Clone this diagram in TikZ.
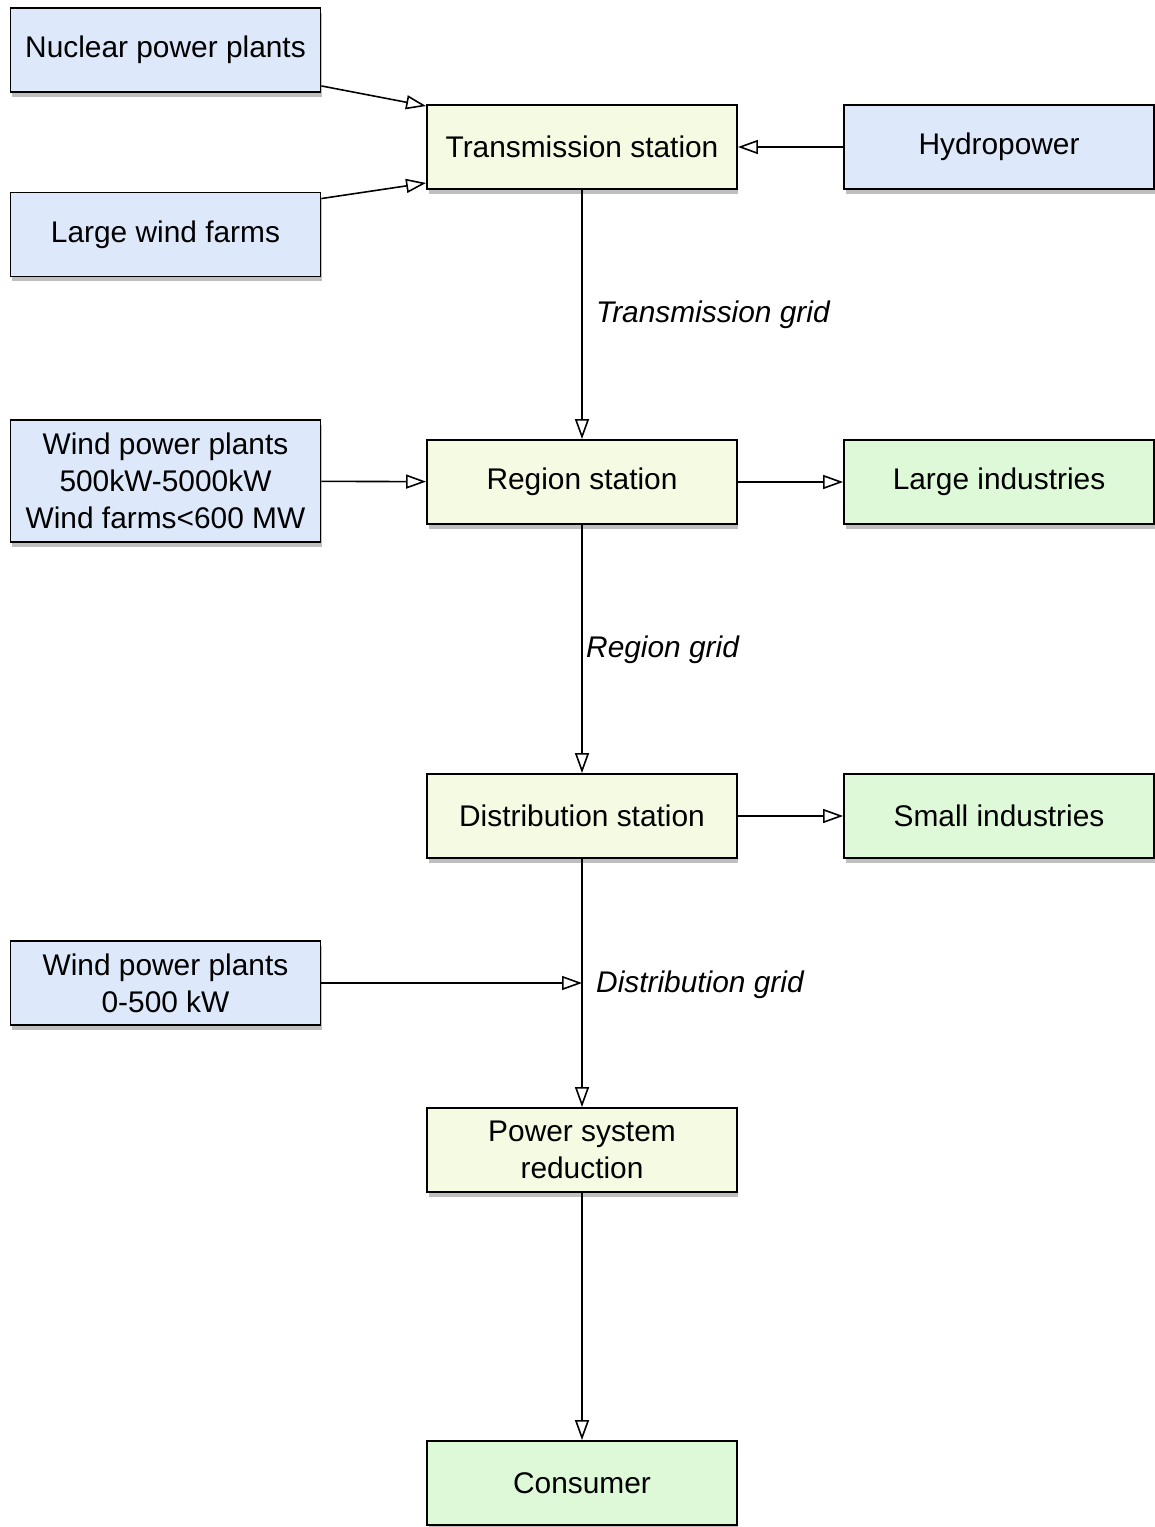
\documentclass[tikz,border=0pt]{standalone}
\usepackage{fontspec}
\setmainfont{Liberation Sans}
\usetikzlibrary{arrows.meta,shadows}

\definecolor{plantblue}{RGB}{221,233,250}
\definecolor{stationyellow}{RGB}{245,251,226}
\definecolor{usergreen}{RGB}{222,249,216}

\begin{document}
\begin{tikzpicture}[x=0.02cm,y=-0.02cm,
        box/.style={draw, line width=1.1pt, minimum width=6.2cm, minimum height=1.68cm,
            align=center, font=\fontsize{17}{21}\selectfont,
            drop shadow={shadow xshift=0.03cm, shadow yshift=-0.1cm, opacity=0.5}},
        plant/.style={box, fill=plantblue},
        station/.style={box, fill=stationyellow},
        user/.style={box, fill=usergreen},
        conn/.style={line width=0.9pt, -{Triangle[open, length=0.4cm, width=0.28cm]}},
        gridlabel/.style={anchor=west, font=\fontsize{17}{21}\selectfont\itshape}]
        \useasboundingbox (0,0) rectangle (1154,1527);
        % sources
        \node [plant] (nuc) at (165.5,50) {Nuclear power plants};
        \node [plant] (lwf) at (165.5,234.5) {Large wind farms};
        \node [plant] (hydro) at (999,147) {Hydropower};
        \node [plant, minimum height=2.44cm] (wpp) at (165.5,481) {Wind power plants\\500kW-5000kW\\Wind farms<600 MW};
        \node [plant] (wsmall) at (165.5,983) {Wind power plants\\0-500 kW};
        % stations
        \node [station] (trans) at (582,147) {Transmission station};
        \node [station] (region) at (582,482) {Region station};
        \node [station] (dist) at (582,816) {Distribution station};
        \node [station] (psr) at (582,1150) {Power system\\reduction};
        % users
        \node [user] (large) at (999,482) {Large industries};
        \node [user] (small) at (999,816) {Small industries};
        \node [user] (cons) at (582,1483) {Consumer};
        % connections
        \draw [conn] ([yshift=0.14cm]nuc.south east) -- ([yshift=-0.04cm]trans.north west);
        \draw [conn] ([yshift=-0.14cm]lwf.north east) -- ([yshift=0.14cm]trans.south west);
        \draw [conn] (hydro) -- (trans);
        \draw [conn] (trans) -- (region);
        \draw [conn] (wpp) -- (region);
        \draw [conn] (region) -- (large);
        \draw [conn] (region) -- (dist);
        \draw [conn] (dist) -- (small);
        \draw [conn] (dist) -- (psr);
        \draw [conn] (wsmall) -- (wsmall -| dist);
        \draw [conn] (psr) -- (cons);
        % grid labels
        \node [gridlabel] (tgrid) at (590,315) {Transmission grid};
        \node [gridlabel] (rgrid) at (580,650) {Region grid};
        \node [gridlabel] (dgrid) at (590,985) {Distribution grid};
    \end{tikzpicture}
\end{document}
